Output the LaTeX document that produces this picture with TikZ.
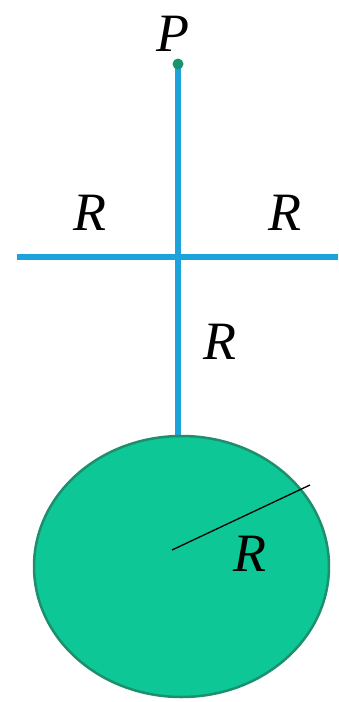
\documentclass[tikz,border=0pt]{standalone}
\usepackage{fontspec}
\setmainfont{Liberation Serif}
\begin{document}
\begin{tikzpicture}[x=1pt,y=-1pt,
  lbl/.style={font=\fontsize{54}{54}\selectfont\itshape, inner sep=0pt},
  rod/.style={draw=skyb, line width=5.5pt}]
\definecolor{skyb}{HTML}{1CA3DC}
\definecolor{gfill}{HTML}{0DC797}
\definecolor{gedge}{HTML}{1E8F6C}
\definecolor{gdot}{HTML}{1A9470}
\useasboundingbox (0,0) rectangle (338,702);
\coordinate (top) at (178,64);
\coordinate (cen) at (181.5,566.5);
\coordinate (hl) at (17,257);
\coordinate (hr) at (338,257);
\coordinate (bot) at (178,437);
\coordinate (rend) at (310,485);
\coordinate (rstart) at (172,550);
\draw[rod] (hl) -- (hr);
\draw[rod] (top) -- (bot);
\draw[fill=gfill, draw=gedge, line width=2.5pt] (cen) ellipse [x radius=147.5, y radius=130.5];
\fill[gdot] (top) circle (5.5);
\draw[black, line width=1.3pt] (rstart) -- (rend);
\node[lbl] (p) at (173,34) {P};
\node[lbl] (r1) at (90,213) {R};
\node[lbl] (r2) at (285,213) {R};
\node[lbl] (r3) at (220,342) {R};
\node[lbl] (r4) at (250,554) {R};
\end{tikzpicture}
\end{document}
